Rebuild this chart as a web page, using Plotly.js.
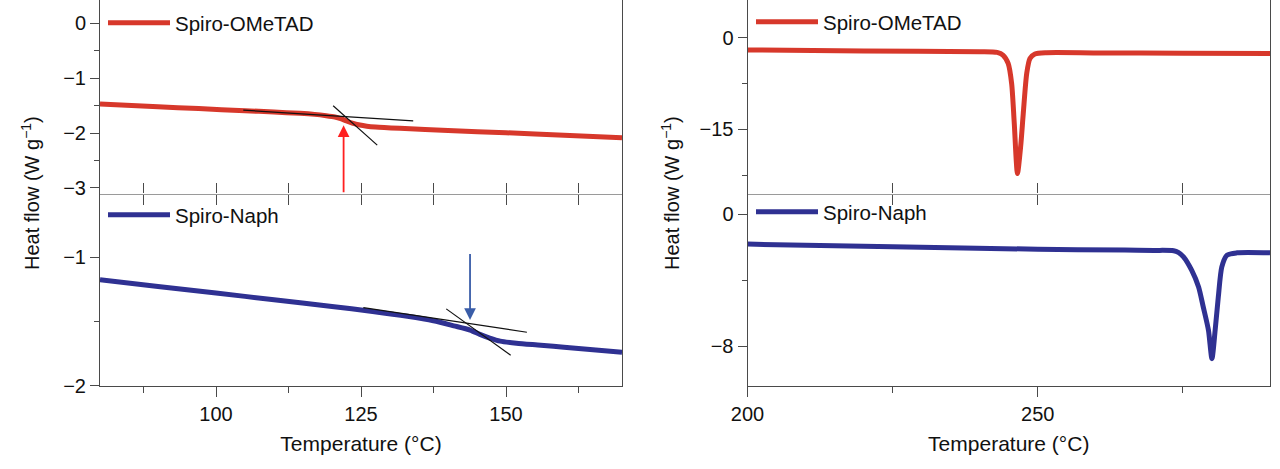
<!DOCTYPE html>
<html>
<head>
<meta charset="utf-8">
<script src="https://cdn.plot.ly/plotly-3.0.1.min.js"></script>
<style>html,body{margin:0;padding:0;background:#fff;}#chart{width:1280px;height:469px;}</style>
</head>
<body>
<div id="chart"></div>
<script>
// ---- Data ----
// Left panels: glass-transition region
const tempOMeTADLow = [80, 90, 97, 105, 110, 114.5, 117, 119, 120.5, 121.5, 122.5, 123.5, 124.8, 126, 127.5, 131.7, 140, 150, 160, 170];
const flowOMeTADLow = [-1.47, -1.52, -1.555, -1.593, -1.618, -1.641, -1.66, -1.684, -1.708, -1.737, -1.78, -1.82, -1.855, -1.875, -1.89, -1.915, -1.955, -1.995, -2.04, -2.085];

const tempNaphLow = [80, 90, 100, 110, 120, 127, 133, 137.5, 141, 143.8, 145.5, 147.2, 149, 151.8, 156, 160, 170];
const flowNaphLow = [-1.174, -1.226, -1.277, -1.329, -1.381, -1.42, -1.458, -1.493, -1.532, -1.565, -1.598, -1.627, -1.651, -1.667, -1.683, -1.699, -1.737];

// Tangent construction lines (black)
const tanOMeTAD1T = [104.7, 134.0], tanOMeTAD1F = [-1.583, -1.777];
const tanOMeTAD2T = [120.2, 127.8], tanOMeTAD2F = [-1.504, -2.221];
const tanNaph1T = [125.4, 153.6], tanNaph1F = [-1.39, -1.582];
const tanNaph2T = [139.7, 150.8], tanNaph2F = [-1.40, -1.761];

// Tg arrows: [temperature, tail flow, head flow]
const arrowOMeTAD = [122.0, -3.106, -1.86];
const arrowNaph = [143.8, -0.961, -1.486];

// Right panels: melting region
const tempOMeTADHigh = [200, 220, 240, 243, 244, 244.9, 245.5, 245.95, 246.5, 247.05, 247.5, 248.1, 248.65, 249.5, 251.5, 260, 275, 290];
const flowOMeTADHigh = [-2.0, -2.15, -2.28, -2.4, -2.83, -4.2, -7.5, -14.0, -22.2, -17.8, -12.4, -5.8, -3.4, -2.67, -2.45, -2.48, -2.53, -2.58];

const tempNaphHigh = [200, 225, 250, 265, 270, 273.4, 274.2, 275.1, 276.5, 277.7, 278.5, 279.4, 280.0, 280.55, 281.1, 281.7, 282.6, 284.3, 290];
const flowNaphHigh = [-1.80, -1.96, -2.11, -2.16, -2.18, -2.2, -2.3, -2.57, -3.38, -4.40, -5.61, -7.03, -8.75, -7.03, -5.0, -3.18, -2.47, -2.33, -2.33];

const seriesNames = ['Spiro-OMeTAD', 'Spiro-Naph'];
const xTitle = 'Temperature (°C)';
const yTitle = 'Heat flow (W g<sup>−1</sup>)';

// ---- Styling ----
const RED = '#d7382b', BLUE = '#2f3192';
const AX = '#4a4a4a', MID = '#9a9a9a';
const FONT = 'Liberation Sans, Arial, sans-serif';
const TICKF = {family: FONT, size: 20, color: '#111'};
const TITLEF = {family: FONT, size: 21, color: '#111'};

const xL = [100/1280, 622/1280], xR = [747.5/1280, 1270/1280];
const yT = [0.587, 1.0], yB = [0.177, 0.587];

function mainLine(x, y, color, xa, ya, name, leg) {
  return {x: x, y: y, xaxis: xa, yaxis: ya, type: 'scatter', mode: 'lines', name: name,
    legend: leg, line: {color: color, width: 5, shape: 'spline', smoothing: 0.7}, hoverinfo: 'skip'};
}
function tanLine(x, y, xa, ya) {
  return {x: x, y: y, xaxis: xa, yaxis: ya, type: 'scatter', mode: 'lines', showlegend: false,
    line: {color: '#111', width: 1.2}, hoverinfo: 'skip'};
}

const traces = [
  mainLine(tempOMeTADLow, flowOMeTADLow, RED, 'x', 'y', seriesNames[0], 'legend'),
  mainLine(tempNaphLow, flowNaphLow, BLUE, 'x2', 'y2', seriesNames[1], 'legend2'),
  mainLine(tempOMeTADHigh, flowOMeTADHigh, RED, 'x3', 'y3', seriesNames[0], 'legend3'),
  mainLine(tempNaphHigh, flowNaphHigh, BLUE, 'x4', 'y4', seriesNames[1], 'legend4'),
  tanLine(tanOMeTAD1T, tanOMeTAD1F, 'x', 'y'),
  tanLine(tanOMeTAD2T, tanOMeTAD2F, 'x', 'y'),
  tanLine(tanNaph1T, tanNaph1F, 'x2', 'y2'),
  tanLine(tanNaph2T, tanNaph2F, 'x2', 'y2'),
  // empty helpers so the upward mid-line tick axes get drawn
  {x: [], y: [], xaxis: 'x5', yaxis: 'y2', type: 'scatter', mode: 'lines', showlegend: false},
  {x: [], y: [], xaxis: 'x6', yaxis: 'y4', type: 'scatter', mode: 'lines', showlegend: false}
];

function xaxisBase(domain, range, dtick, minorDtick, anchor) {
  return {domain: domain, range: range, anchor: anchor, dtick: dtick, tick0: 0,
    showgrid: false, zeroline: false, showline: true, linecolor: AX, linewidth: 1,
    ticks: 'outside', ticklen: 10, tickwidth: 1, tickcolor: AX,
    minor: {dtick: minorDtick, ticks: 'outside', ticklen: 6, tickwidth: 1, tickcolor: AX, showgrid: false},
    tickfont: TICKF, automargin: false, fixedrange: true};
}
function yaxisBase(domain, range, dtick, minorDtick, anchor) {
  return {domain: domain, range: range, anchor: anchor, dtick: dtick, tick0: 0,
    showgrid: false, zeroline: false, showline: true, linecolor: AX, linewidth: 1, mirror: true,
    ticks: 'outside', ticklen: 9, tickwidth: 1, tickcolor: AX,
    minor: {dtick: minorDtick, ticks: 'outside', ticklen: 5, tickwidth: 1, tickcolor: AX, showgrid: false},
    tickfont: TICKF, automargin: false, fixedrange: true};
}
function midAxis(domain, range, dtick, minorDtick, anchor) {
  const a = xaxisBase(domain, range, dtick, minorDtick, anchor);
  a.showticklabels = false; a.linecolor = MID; a.tickcolor = AX; a.ticklen = 10;
  a.minor.ticklen = 10;
  return a;
}
function upTicks(over, range, dtick, minorDtick, anchor) {
  return {overlaying: over, side: 'top', anchor: anchor, range: range, dtick: dtick, tick0: 0,
    showgrid: false, zeroline: false, showline: false, showticklabels: false,
    ticks: 'outside', ticklen: 10, tickwidth: 1, tickcolor: AX,
    minor: {dtick: minorDtick, ticks: 'outside', ticklen: 10, tickwidth: 1, tickcolor: AX, showgrid: false},
    automargin: false, fixedrange: true};
}

const rangeL = [80, 170], rangeR = [200, 290];

const xb2 = xaxisBase(xL, rangeL, 25, 12.5, 'y2');
xb2.title = {text: xTitle, font: TITLEF, standoff: 12};
const xb4 = xaxisBase(xR, rangeR, 50, 25, 'y4');
xb4.title = {text: xTitle, font: TITLEF, standoff: 12};

function legendAt(xpx, ypx) {
  return {x: xpx/1280, y: 1 - ypx/469, xanchor: 'left', yanchor: 'middle', bgcolor: 'rgba(0,0,0,0)',
    borderwidth: 0, font: {family: FONT, size: 20.5, color: '#111'}, itemwidth: 62, tracegroupgap: 0};
}

const layout = {
  width: 1280, height: 469,
  margin: {l: 0, r: 0, t: 0, b: 0, pad: 0},
  paper_bgcolor: '#fff', plot_bgcolor: 'rgba(0,0,0,0)',
  font: {family: FONT, color: '#111'},
  showlegend: true,
  xaxis: midAxis(xL, rangeL, 25, 12.5, 'y'),
  yaxis: yaxisBase(yT, [-3.106, 0.425], 1, 0.5, 'x'),
  xaxis2: xb2,
  yaxis2: yaxisBase(yB, [-2, -0.504], 1, 0.5, 'x2'),
  xaxis3: midAxis(xR, rangeR, 50, 25, 'y3'),
  yaxis3: yaxisBase(yT, [-25.5, 6.17], 15, 7.5, 'x3'),
  xaxis4: xb4,
  yaxis4: yaxisBase(yB, [-10.41, 1.26], 8, 4, 'x4'),
  xaxis5: upTicks('x2', rangeL, 25, 12.5, 'y2'),
  xaxis6: upTicks('x4', rangeR, 50, 25, 'y4'),
  legend: legendAt(103, 23),
  legend2: legendAt(103, 215),
  legend3: legendAt(751, 22),
  legend4: legendAt(751, 212),
  annotations: [
    {x: arrowOMeTAD[0], y: arrowOMeTAD[2], ax: arrowOMeTAD[0], ay: arrowOMeTAD[1], xref: 'x', yref: 'y',
     axref: 'x', ayref: 'y', text: '', showarrow: true, arrowhead: 2, arrowsize: 1.3, arrowwidth: 1.8,
     arrowcolor: '#ff2020', standoff: 0, startstandoff: 0},
    {x: arrowNaph[0], y: arrowNaph[2], ax: arrowNaph[0], ay: arrowNaph[1], xref: 'x2', yref: 'y2',
     axref: 'x2', ayref: 'y2', text: '', showarrow: true, arrowhead: 2, arrowsize: 1.3, arrowwidth: 1.8,
     arrowcolor: '#3a5da8', standoff: 0, startstandoff: 0},
    {x: 30/1280, y: 1 - 193/469, xref: 'paper', yref: 'paper', text: yTitle, textangle: -90,
     showarrow: false, font: {family: FONT, size: 20, color: '#111'}, xanchor: 'center', yanchor: 'middle'},
    {x: 670/1280, y: 1 - 193/469, xref: 'paper', yref: 'paper', text: yTitle, textangle: -90,
     showarrow: false, font: {family: FONT, size: 20, color: '#111'}, xanchor: 'center', yanchor: 'middle'}
  ]
};

Plotly.newPlot('chart', traces, layout, {staticPlot: true, displayModeBar: false});
</script>
</body>
</html>
